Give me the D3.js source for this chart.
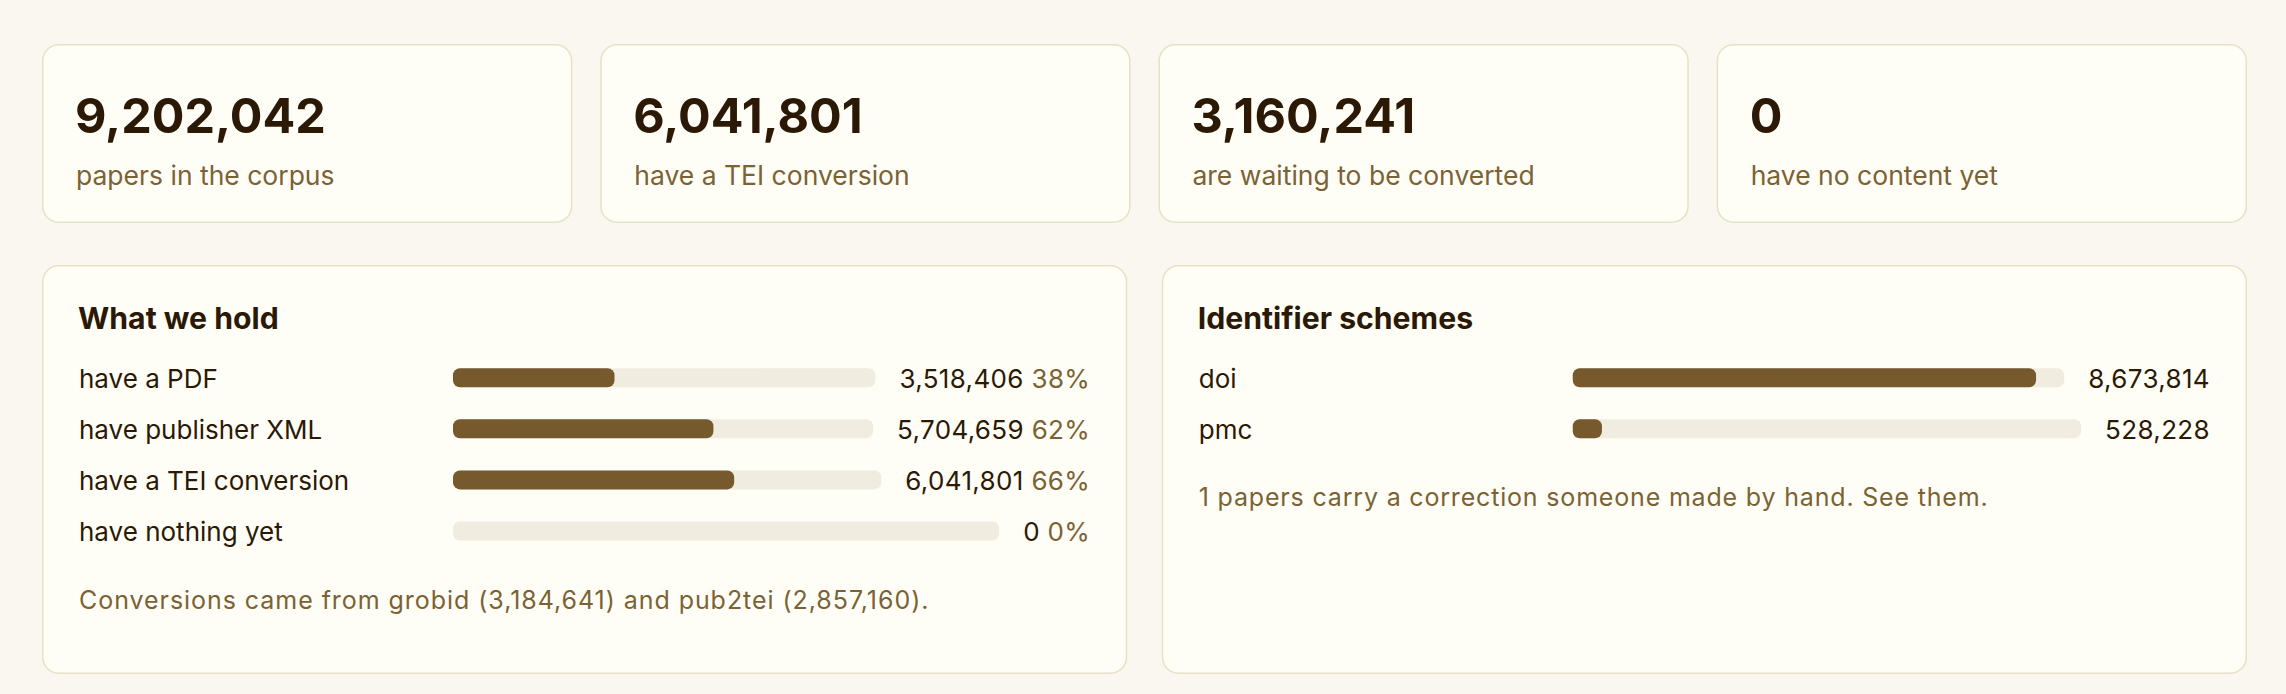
<!DOCTYPE html>
<html>
<head>
<meta charset="utf-8">
<script src="https://cdn.jsdelivr.net/npm/d3@7"></script>
<style>
  html, body { margin: 0; padding: 0; background: #faf7f1; }
  svg { display: block; }
  text { font-family: Inter, "Noto Sans", "DejaVu Sans", sans-serif; }
</style>
</head>
<body>
<div id="chart"></div>
<script>
// ---------- data ----------
const corpusTotal = 9202042;
const statValues = [9202042, 6041801, 3160241, 0];
const statLabels = ["papers in the corpus", "have a TEI conversion", "are waiting to be converted", "have no content yet"];

const holdTitle = "What we hold";
const holdLabels = ["have a PDF", "have publisher XML", "have a TEI conversion", "have nothing yet"];
const holdValues = [3518406, 5704659, 6041801, 0];

const idTitle = "Identifier schemes";
const idLabels = ["doi", "pmc"];
const idValues = [8673814, 528228];

const sourceNames = ["grobid", "pub2tei"];
const sourceCounts = [3184641, 2857160];
const correctionCount = 1;

// ---------- style ----------
const W = 2286, H = 694;
const C = {
  page: "#faf7f1", card: "#fffef6", border: "#e8e0c7",
  ink: "#2b1906", muted: "#7b6234", fill: "#765a2e", track: "#f0ece0"
};
const fmt = d3.format(",");

const svg = d3.select("#chart").append("svg").attr("width", W).attr("height", H);
svg.append("rect").attr("width", W).attr("height", H).attr("fill", C.page);

// ---------- stat cards ----------
const cardX = d3.scaleBand().domain(d3.range(statValues.length)).range([42, 2247]).paddingInner(0.05);
const cardTop = 44, cardH = 179;
const cards = svg.selectAll("g.card").data(statValues).join("g").attr("class", "card")
  .attr("transform", (d, i) => `translate(${cardX(i)},${cardTop})`);
cards.append("rect")
  .attr("x", 0.75).attr("y", 0.75)
  .attr("width", cardX.bandwidth() - 1.5).attr("height", cardH - 1.5)
  .attr("rx", 16).attr("fill", C.card).attr("stroke", C.border).attr("stroke-width", 1.5);
cards.append("text").attr("x", 33).attr("y", 89)
  .attr("fill", C.ink).attr("font-size", 48.5).attr("font-weight", 700)
  .text(d => fmt(d));
cards.append("text").attr("x", 34).attr("y", 141)
  .attr("fill", C.muted).attr("font-size", 26.5)
  .text((d, i) => statLabels[i]);

// ---------- panels ----------
const panelX = d3.scaleBand().domain([0, 1]).range([42, 2247]).paddingInner(34 / 1102.5);
const panelTop = 265, panelH = 409;
const pad = 37, labelCol = 374, gapCol = 24;
const rowY = d3.scaleLinear().domain([0, 1]).range([387.7, 438.8]); // baseline of row i
const barH = 19;

function panel(idx, title, labels, values, showPct) {
  const px = panelX(idx), pw = panelX.bandwidth();
  const g = svg.append("g").attr("transform", `translate(${px},${panelTop})`);
  g.append("rect").attr("x", 0.75).attr("y", 0.75)
    .attr("width", pw - 1.5).attr("height", panelH - 1.5)
    .attr("rx", 16).attr("fill", C.card).attr("stroke", C.border).attr("stroke-width", 1.5);
  g.append("text").attr("x", pad - 1).attr("y", 64)
    .attr("fill", C.ink).attr("font-size", 30.2).attr("font-weight", 700).text(title);

  const contentRight = pw - pad;
  values.forEach((v, i) => {
    const by = rowY(i) - panelTop;
    g.append("text").attr("x", pad).attr("y", by)
      .attr("fill", C.ink).attr("font-size", 26).text(labels[i]);
    // value + pct block, right aligned
    const t = g.append("text").attr("x", contentRight).attr("y", by)
      .attr("text-anchor", "end").attr("font-size", 26).attr("letter-spacing", 0.35);
    t.append("tspan").attr("fill", C.ink).text(fmt(v));
    if (showPct) {
      t.append("tspan").attr("fill", C.muted).text(" " + Math.round(v / corpusTotal * 100) + "%");
    }
    const textW = t.node().getComputedTextLength();
    const trackStart = pad + labelCol;
    const trackEnd = contentRight - textW - gapCol;
    const x = d3.scaleLinear().domain([0, corpusTotal]).range([trackStart, trackEnd]);
    const top = by - barH - 0.5;
    g.append("rect").attr("x", x(0)).attr("y", top)
      .attr("width", x(corpusTotal) - x(0)).attr("height", barH)
      .attr("rx", 7).attr("fill", C.track);
    if (v > 0) {
      g.append("rect").attr("x", x(0)).attr("y", top)
        .attr("width", Math.max(x(v) - x(0), 14)).attr("height", barH)
        .attr("rx", 7).attr("fill", C.fill);
    }
  });
  return { g, lastY: rowY(values.length - 1) - panelTop };
}

const p1 = panel(0, holdTitle, holdLabels, holdValues, true);
p1.g.append("text").attr("x", pad).attr("y", p1.lastY + 67.6)
  .attr("fill", C.muted).attr("font-size", 25).attr("letter-spacing", 0.95)
  .text(`Conversions came from ${sourceNames[0]} (${fmt(sourceCounts[0])}) and ${sourceNames[1]} (${fmt(sourceCounts[1])}).`);

const p2 = panel(1, idTitle, idLabels, idValues, false);
p2.g.append("text").attr("x", pad).attr("y", p2.lastY + 66.7)
  .attr("fill", C.muted).attr("font-size", 25).attr("letter-spacing", 0.82)
  .text(`${correctionCount} papers carry a correction someone made by hand. See them.`);
</script>
</body>
</html>
